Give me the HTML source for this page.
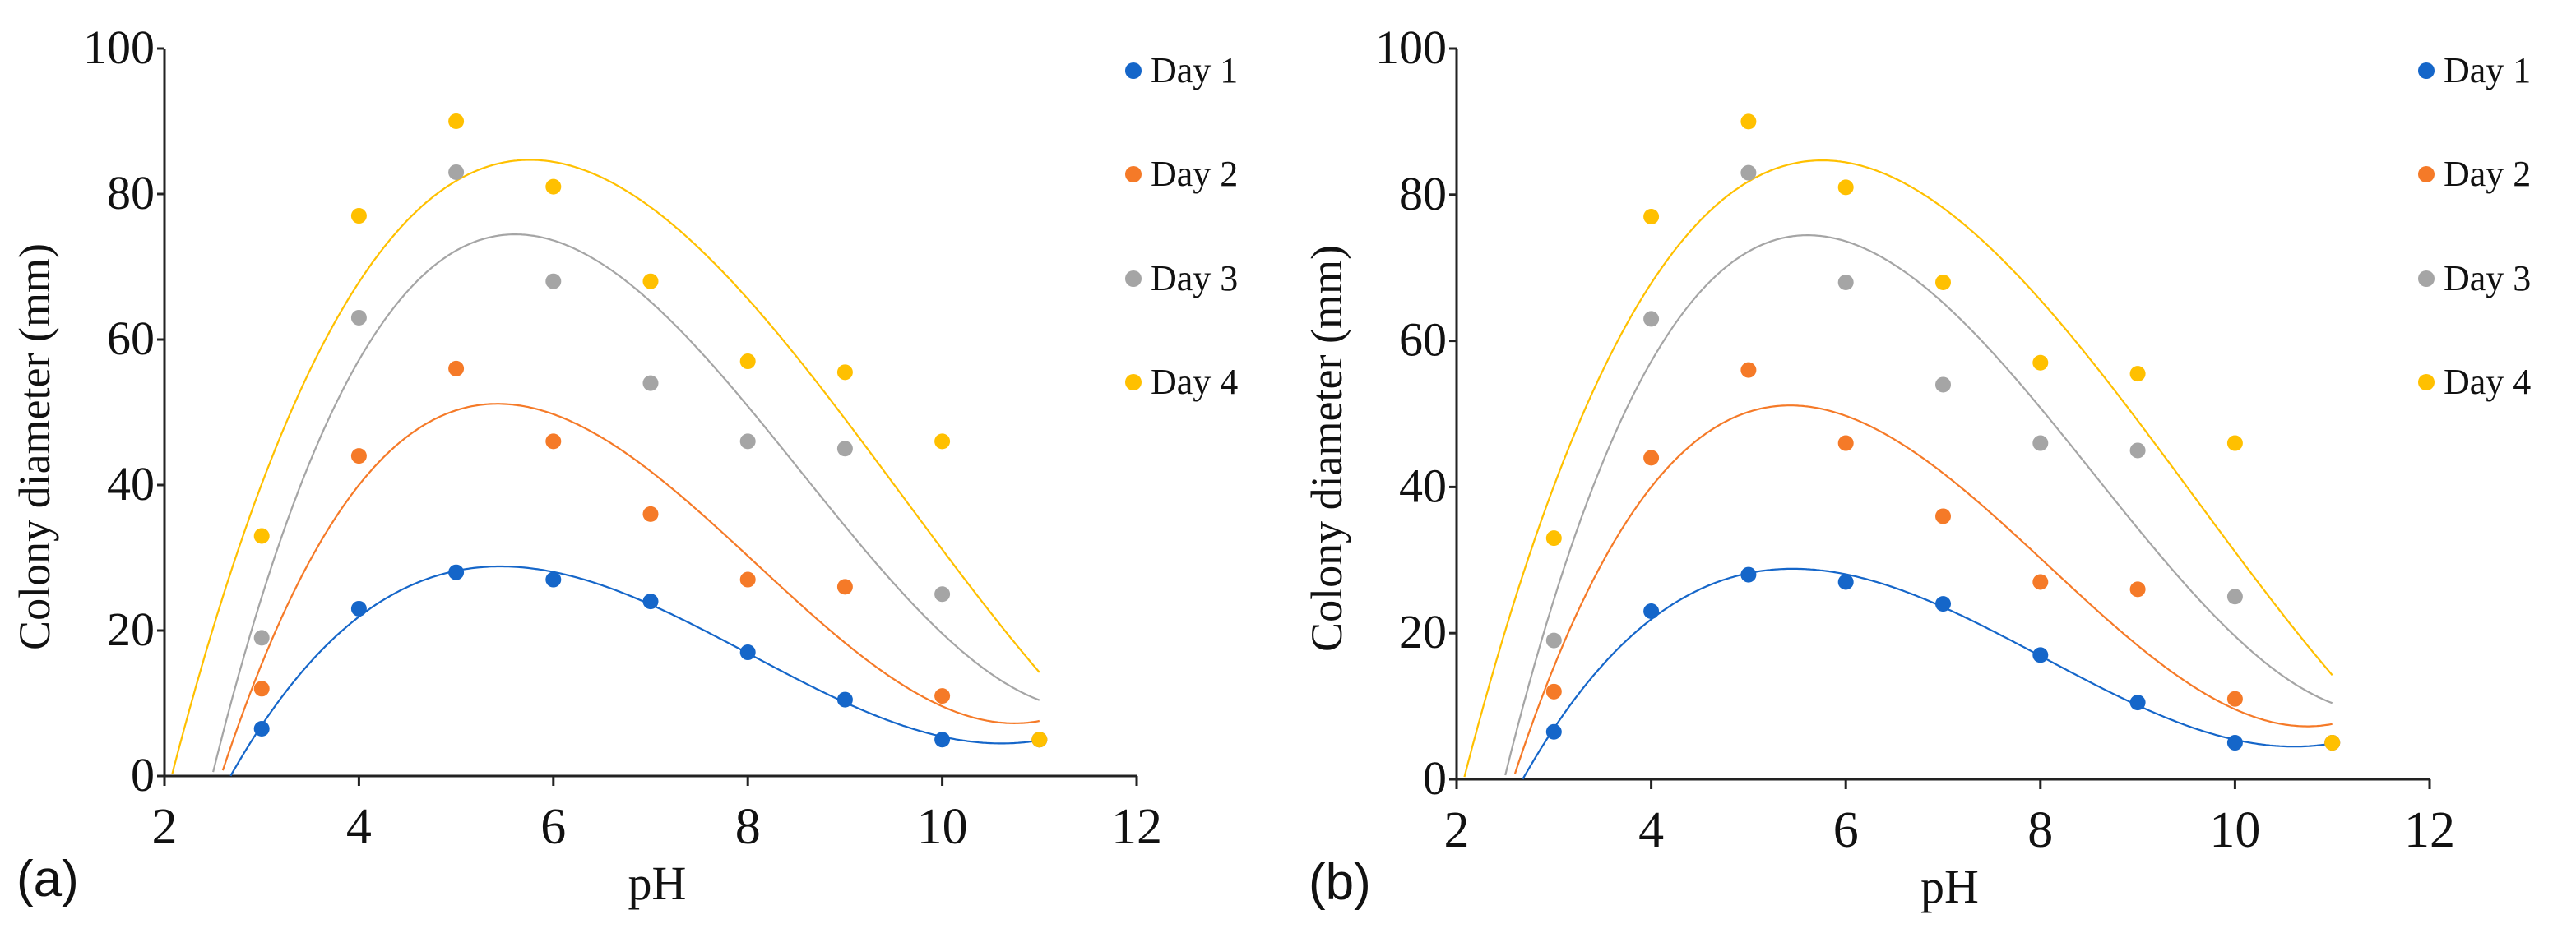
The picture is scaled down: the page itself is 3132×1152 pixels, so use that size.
<!DOCTYPE html>
<html><head><meta charset="utf-8"><style>
html,body{margin:0;padding:0;background:#fff;}
svg{display:block;}
</style></head><body>
<svg id="chart" width="3132" height="1152" viewBox="0 0 3132 1152" xmlns="http://www.w3.org/2000/svg"></svg>
<script>
const phValues = [3,4,5,6,7,8,9,10,11];
const seriesNames = ["Day 1","Day 2","Day 3","Day 4"];
const day1 = [6.5,23,28,27,24,17,10.5,5,5];
const day2 = [12,44,56,46,36,27,26,11,5];
const day3 = [19,63,83,68,54,46,45,25,5];
const day4 = [33,77,90,81,68,57,55.5,46,5];
const seriesColors = ["#1566c9","#f57a28","#a5a5a5","#ffc000"];
const xTicks = [2,4,6,8,10,12];
const yTicks = [0,20,40,60,80,100];
const panelLabels = ["(a)","(b)"];
const allSeries = [day1,day2,day3,day4];
const SERIF='"Liberation Serif", "Times New Roman", serif';
const NS="http://www.w3.org/2000/svg";
const svg=document.getElementById('chart');
function mk(tag,attrs,parent){const e=document.createElementNS(NS,tag);for(const k in attrs)e.setAttribute(k,attrs[k]);(parent||svg).appendChild(e);return e;}
function cubicFit(xs,ys){
  const n=4;const A=[];const b=[];
  for(let i=0;i<n;i++){A.push(new Array(n).fill(0));b.push(0);}
  for(let k=0;k<xs.length;k++){for(let i=0;i<n;i++){for(let j=0;j<n;j++)A[i][j]+=Math.pow(xs[k],i+j);b[i]+=ys[k]*Math.pow(xs[k],i);}}
  for(let i=0;i<n;i++){let p=i;for(let r=i+1;r<n;r++)if(Math.abs(A[r][i])>Math.abs(A[p][i]))p=r;[A[i],A[p]]=[A[p],A[i]];[b[i],b[p]]=[b[p],b[i]];
    for(let r=i+1;r<n;r++){const f=A[r][i]/A[i][i];for(let c=i;c<n;c++)A[r][c]-=f*A[i][c];b[r]-=f*b[i];}}
  const c=new Array(n).fill(0);for(let i=n-1;i>=0;i--){let s=b[i];for(let j=i+1;j<n;j++)s-=A[i][j]*c[j];c[i]=s/A[i][i];}
  return x=>c[0]+c[1]*x+c[2]*x*x+c[3]*x*x*x;
}
function panel(idx,x0,x1,y0,y1){
  const g=mk('g',{});
  
  
  const sx=v=>x0+(v-2)/10*(x1-x0);
  const sy=v=>y0+(v/100)*(y1-y0);
  const ya=mk('line',{x1:x0,y1:y1,x2:x0,y2:y0+2,stroke:'#222','stroke-width':3},g);
  
  const xa=mk('line',{x1:x0-1,y1:y0,x2:x1,y2:y0,stroke:'#222','stroke-width':3},g);
  
  yTicks.forEach(t=>{
    mk('line',{x1:x0-9,y1:sy(t),x2:x0,y2:sy(t),stroke:'#222','stroke-width':3},g);
    const tx=mk('text',{x:x0-12,y:sy(t)+18,'text-anchor':'end','font-size':58,'font-family':SERIF,fill:'#111'},g);
    tx.textContent=t;
    
  });
  xTicks.forEach(t=>{
    mk('line',{x1:sx(t),y1:y0,x2:sx(t),y2:y0+12,stroke:'#222','stroke-width':3},g);
    const tx=mk('text',{x:sx(t),y:y0+82,'text-anchor':'middle','font-size':62,'font-family':SERIF,fill:'#111'},g);
    tx.textContent=t;
    
  });
  const xt=mk('text',{x:(x0+x1)/2+8,y:y0+150,'text-anchor':'middle','font-size':58,'font-family':SERIF,fill:'#111'},g);
  xt.textContent='pH';
  
  const cy=(y0+y1)/2+42;
  const yt=mk('text',{x:0,y:0,'text-anchor':'middle','font-size':54,'font-family':SERIF,fill:'#111',transform:`translate(${x0-140},${cy}) rotate(-90)`},g);
  yt.textContent='Colony diameter (mm)';
  
  const pl=mk('text',{x:x0-180,y:y0+146,'font-size':62,'font-family':'"Liberation Sans",sans-serif',fill:'#111'},g);
  pl.textContent=panelLabels[idx];
  
  allSeries.forEach((s,si)=>{
    const f=cubicFit(phValues,s);
    let pts=[];
    for(let x=2;x<=11.0001;x+=0.02){const v=f(x);if(v<0){pts=[];continue;}pts.push(sx(x).toFixed(1)+','+sy(v).toFixed(1));}
    const pth=mk('polyline',{points:pts.join(' '),fill:'none',stroke:seriesColors[si],'stroke-width':2.2},g);
    
  });
  allSeries.forEach((s,si)=>{
    s.forEach((v,i)=>{
      const c=mk('circle',{cx:sx(phValues[i]),cy:sy(v),r:9.5,fill:seriesColors[si]},g);
      
    });
  });
  const ly=[86,212,339,465];
  seriesNames.forEach((n,si)=>{
    const lg=mk('g',{},g);
    
    mk('circle',{cx:x1-4,cy:ly[si],r:10,fill:seriesColors[si]},lg);
    const t=mk('text',{x:x1+17,y:ly[si]+14,'font-size':44,'font-family':SERIF,fill:'#111'},lg);
    t.textContent=n;
  });
}
panel(0,200,1382,944,59);
panel(1,1771,2954,948,59);
</script>
</body></html>
